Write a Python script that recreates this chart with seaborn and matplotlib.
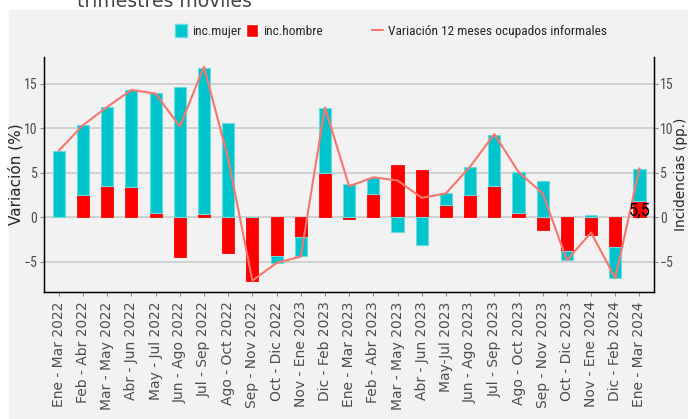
import matplotlib
matplotlib.use("Agg")
import matplotlib.pyplot as plt
import numpy as np
import pandas as pd
import seaborn as sns
from matplotlib.lines import Line2D
from matplotlib.patches import Patch, Rectangle

# --------------------------------------------------------------------------- #
# Datos
# --------------------------------------------------------------------------- #
periodos = [
    "Ene - Mar 2022", "Feb - Abr 2022", "Mar - May 2022", "Abr - Jun 2022",
    "May - Jul 2022", "Jun - Ago 2022", "Jul - Sep 2022", "Ago - Oct 2022",
    "Sep - Nov 2022", "Oct - Dic 2022", "Nov - Ene 2023", "Dic - Feb 2023",
    "Ene - Mar 2023", "Feb - Abr 2023", "Mar - May 2023", "Abr - Jun 2023",
    "May-Jul 2023", "Jun - Ago 2023", "Jul - Sep 2023", "Ago - Oct 2023",
    "Sep - Nov 2023", "Oct - Dic 2023", "Nov - Ene 2024", "Dic - Feb 2024",
    "Ene - Mar 2024",
]
inc_hombre = [0.05, 2.54, 3.55, 3.44, 0.45, -4.45, 0.34, -3.96, -7.17, -4.30,
              -2.24, 4.97, -0.19, 2.65, 5.83, 5.27, 1.42, 2.47, 3.51, 0.49,
              -1.42, -3.81, -1.98, -3.33, 1.79]
inc_mujer = [7.42, 7.81, 8.82, 10.83, 13.49, 14.65, 16.48, 10.58, 0.0, -0.82,
             -2.13, 7.32, 3.70, 1.83, -1.68, -3.10, 1.31, 3.21, 5.79, 4.59,
             4.11, -1.01, 0.30, -3.47, 3.70]
variacion = [7.5, 10.35, 12.4, 14.3, 13.9, 10.2, 16.9, 6.6, -7.1, -5.1,
             -4.4, 12.35, 3.5, 4.5, 4.15, 2.2, 2.7, 5.7, 9.35, 5.1,
             2.7, -4.8, -1.7, -6.8, 5.5]
etiqueta_final = "5,5"

# --------------------------------------------------------------------------- #
# Estilo
# --------------------------------------------------------------------------- #
GRIS = "#F2F2F2"
CIAN = "#00C4CC"
ROJO = "#FF0000"
SALMON = "#F8766D"
TXT = "#4D4D4D"
NARROW = ["Liberation Sans Narrow", "DejaVu Sans Condensed", "Roboto Condensed",
          "Liberation Sans", "DejaVu Sans"]
W, H = 688, 419
AX_L, AX_R = 44.3, 654

sns.set_style("whitegrid", {
    "axes.facecolor": GRIS,
    "figure.facecolor": "white",
    "grid.color": "#C8C8C8",
    "axes.edgecolor": "black",
    "xtick.bottom": True,
    "ytick.left": True,
})
plt.rcParams["font.family"] = ["DejaVu Sans"]

df = pd.DataFrame({"periodo": periodos, "hombre": inc_hombre,
                   "mujer": inc_mujer, "variacion": variacion})
df["x"] = np.arange(len(df))
# apilado relativo: cada sentido se apila por separado (hombre junto al cero)
base_mujer = np.where(np.sign(df["mujer"]) == np.sign(df["hombre"]), df["hombre"], 0.0)

fig, ax = plt.subplots(figsize=(W / 100, H / 100), dpi=100)
fig.subplots_adjust(left=AX_L / W, right=AX_R / W, top=1 - 57 / H, bottom=1 - 292.3 / H)
fig.patches.append(Rectangle((9 / W, 0), 1, 1 - 10 / H, transform=fig.transFigure,
                             color=GRIS, zorder=-10))


def fit_fontsize(texto, ancho_px, ref=10.0):
    """Tamaño de letra (fuente estrecha) para que el texto mida ancho_px."""
    t = fig.text(0, 0, texto, fontsize=ref, family=NARROW)
    w = t.get_window_extent(renderer=fig.canvas.get_renderer()).width
    t.remove()
    return ref * ancho_px / w


size_leg = fit_fontsize("Variación 12 meses ocupados informales", 218)
size_tick = fit_fontsize("10", 13.5)
size_lab = fit_fontsize(etiqueta_final, 22)
px_leg = size_leg * 100 / 72

sns.barplot(data=df, x="x", y="hombre", color=ROJO, width=0.5, saturation=1,
            edgecolor=ROJO, linewidth=0.6, ax=ax, native_scale=True, zorder=2)
ax.bar(df["x"], df["mujer"], bottom=base_mujer, width=0.5, color=CIAN,
       edgecolor="#66DCE0", linewidth=0.8, zorder=2)
sns.lineplot(data=df, x="x", y="variacion", color=SALMON, linewidth=1.5,
             sort=False, ax=ax, zorder=3)
ax.text(df["x"].iloc[-1], 0.2, etiqueta_final, ha="center", va="baseline",
        fontsize=size_lab, family=NARROW, color="black", zorder=4)

ax.set_xlim(-0.6, 24.6)
ax.set_ylim(-8.4, 18)
ax.set_yticks([-5, 0, 5, 10, 15])
ax.set_xticks(df["x"])
ax.set_xticklabels(periodos, rotation=90, fontsize=10, color=TXT)
ax.grid(axis="x", visible=False)
ax.grid(axis="y", linewidth=1.1)
ax.set_xlabel("")
ax.set_ylabel("Variación (%)", fontsize=11)
ax.yaxis.set_label_coords((24 - AX_L) / (AX_R - AX_L), 0.5)
ax.tick_params(axis="both", length=3, color="#888888", width=0.8)
ax.tick_params(axis="y", labelsize=size_tick, labelcolor=TXT, pad=2)
for lab in ax.get_yticklabels():
    lab.set_family(NARROW)
for side in ["left", "bottom", "right"]:
    ax.spines[side].set_color("black")
    ax.spines[side].set_linewidth(1.0)
ax.spines["top"].set_visible(False)

ax2 = ax.twinx()
ax2.set_ylim(ax.get_ylim())
ax2.set_yticks([-5, 0, 5, 10, 15])
ax2.grid(False)
ax2.tick_params(axis="y", length=3, color="#888888", width=0.8,
                labelsize=size_tick, labelcolor=TXT, pad=1.5)
for lab in ax2.get_yticklabels():
    lab.set_family(NARROW)
ax2.set_ylabel("Incidencias (pp.)", fontsize=9.8)
ax2.yaxis.set_label_coords((673.5 - AX_L) / (AX_R - AX_L), 0.5)
ax2.spines["top"].set_visible(False)
ax2.spines["right"].set_color("black")

# leyendas
h_barras = [Patch(facecolor=CIAN, edgecolor="#66DCE0"), Patch(facecolor=ROJO)]
fig.legend(h_barras, ["inc.mujer", "inc.hombre"], ncol=2, frameon=False,
           loc="center left", bbox_to_anchor=(174.7 / W, 1 - 31 / H),
           borderpad=0, borderaxespad=0, handlelength=12 / px_leg,
           handleheight=16 / px_leg, handletextpad=5 / px_leg,
           columnspacing=5 / px_leg, prop={"family": NARROW, "size": size_leg})
h_linea = [Line2D([0], [0], color=SALMON, linewidth=1.5)]
fig.legend(h_linea, ["Variación 12 meses ocupados informales"], frameon=False,
           loc="center left", bbox_to_anchor=(371.7 / W, 1 - 31 / H),
           borderpad=0, borderaxespad=0, handlelength=11 / px_leg,
           handletextpad=5 / px_leg, prop={"family": NARROW, "size": size_leg})

fig.text(77 / W, 1 - 7 / H, "trimestres móviles", fontsize=13.5, color="#444444",
         va="baseline")

fig.savefig("out.png", dpi=100)
